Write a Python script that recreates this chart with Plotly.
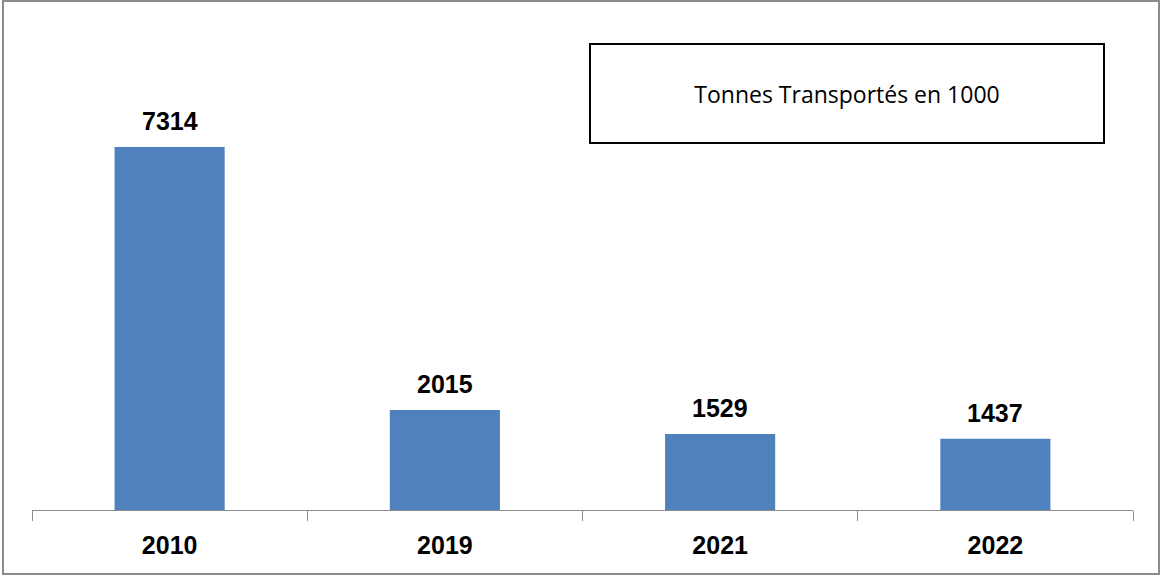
import plotly.graph_objects as go

years = ["2010", "2019", "2021", "2022"]
tonnes = [7314, 2015, 1529, 1437]
series_name = "Tonnes Transportés en 1000"

W, H = 1161, 576
L, R, T, B = 32, 28, 30, 66
plot_h = H - T - B
plot_w = W - L - R
# top of axis so that 7314 sits ~363 px above the baseline
y_top = max(tonnes) * plot_h / 363

bold_font = dict(family="Liberation Sans", size=25, color="#000000", weight="bold")

fig = go.Figure()
fig.add_trace(go.Bar(
    x=years,
    y=tonnes,
    name=series_name,
    marker=dict(color="#4f81bd", line=dict(width=0)),
    showlegend=False,
))

# value labels above the bars (category index, since the year names look numeric)
for i, v in enumerate(tonnes):
    fig.add_annotation(
        x=i, y=v, text=str(v), showarrow=False,
        xanchor="center", yanchor="bottom", yshift=10,
        font=bold_font,
    )

# legend-like box with the series name
fig.add_annotation(
    x=(847 - L) / plot_w, y=(H - B - 93.5) / plot_h,
    xref="paper", yref="paper",
    xanchor="center", yanchor="middle",
    text=series_name,
    showarrow=False,
    width=512, height=97,
    align="center", valign="middle",
    bordercolor="#000000", borderwidth=2, borderpad=0,
    font=dict(family="Open Sans", size=23, color="#000000"),
)

# outer chart border
fig.add_shape(
    type="rect", xref="paper", yref="paper",
    x0=(3 - L) / plot_w, x1=(1159 - L) / plot_w,
    y0=(H - B - 574) / plot_h, y1=(H - B - 1) / plot_h,
    line=dict(color="#8c8c8c", width=2),
)

fig.update_layout(
    width=W, height=H,
    margin=dict(l=L, r=R, t=T, b=B),
    plot_bgcolor="white",
    paper_bgcolor="white",
    bargap=0.6,
    xaxis=dict(
        type="category",
        range=[-0.5, len(years) - 0.5],
        showline=True, linecolor="#8c8c8c", linewidth=1,
        ticks="outside", tickson="boundaries", ticklen=10, tickcolor="#8c8c8c",
        tickfont=bold_font, tickangle=0,
        ticklabelstandoff=13,
        showgrid=False, automargin=False,
    ),
    yaxis=dict(
        range=[0, y_top], visible=False, showgrid=False, zeroline=False,
    ),
)

fig.write_html("out.html", config={"displayModeBar": False})

# drop the default page margin so the chart sits at the window's corner
with open("out.html", encoding="utf-8") as f:
    html = f.read()
html = html.replace("<body>", '<body style="margin:0">', 1)
with open("out.html", "w", encoding="utf-8") as f:
    f.write(html)
